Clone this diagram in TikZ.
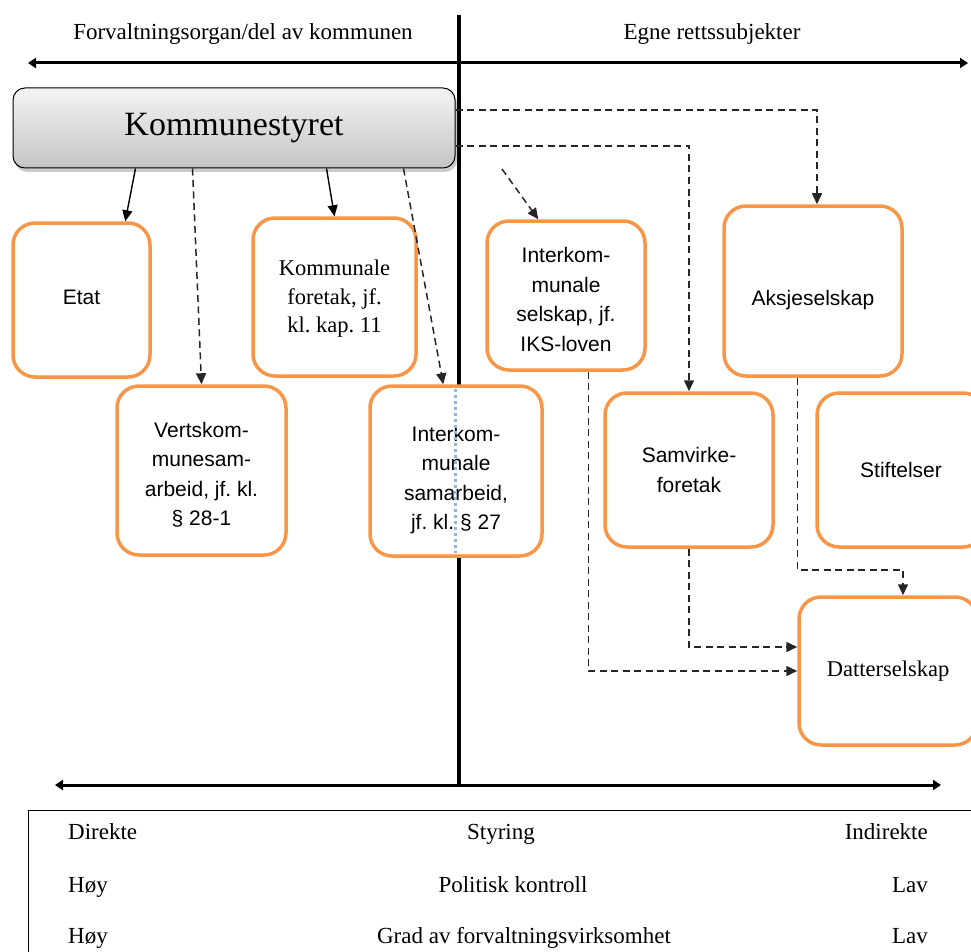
\documentclass[tikz,border=0pt]{standalone}
\usepackage{fontspec}
\setmainfont{Liberation Serif}
\newfontfamily\arialf{Liberation Sans}
\usetikzlibrary{arrows.meta,shadows}
\definecolor{orbox}{HTML}{F79646}
\definecolor{dotblue}{HTML}{95B3D7}
\definecolor{ksTop}{HTML}{F4F4F4}
\definecolor{ksBot}{HTML}{C4C4C4}
\begin{document}
\frenchspacing
\begin{tikzpicture}[x=1pt,y=-1pt,
  obox/.style={draw=orbox, line width=3.5pt, rounded corners=22pt, fill=white, inner sep=0pt, align=center},
  sanstxt/.style={font=\arialf\fontsize{21}{29.5}\selectfont},
  seriftxt/.style={font=\fontsize{22.5}{28.5}\selectfont},
  lbl/.style={font=\fontsize{23}{27}\selectfont, inner sep=0pt},
  kstyle/.style={draw=black, line width=1pt, rounded corners=12pt, top color=ksTop, bottom color=ksBot,
    drop shadow={shadow xshift=2pt, shadow yshift=-4pt, opacity=0.4},
    minimum width=442pt, minimum height=80pt, inner sep=0pt, font=\fontsize{34}{40}\selectfont},
  solidarr/.style={line width=1.4pt, -{Triangle[length=11pt,width=10pt]}},
  dasharr/.style={line width=1.5pt, draw=black!85, dash pattern=on 7pt off 4.5pt, -{Triangle[length=11pt,width=10pt]}},
  axisline/.style={line width=3pt, {Triangle[length=8pt,width=10pt]}-{Triangle[length=8pt,width=10pt]}}
]
\useasboundingbox (0,0) rectangle (971,952);
\clip (0,0) rectangle (971,952);

% axes
\coordinate (vtop) at (459,15);
\coordinate (vbot) at (459,785);
\coordinate (tl) at (28,63);
\coordinate (tr) at (968,63);
\coordinate (bl) at (55,785);
\coordinate (br) at (941,785);
\draw[line width=3.5pt] (vtop) -- (vbot);
\draw[axisline] (tl) -- (tr);
\draw[axisline] (bl) -- (br);

% headers
\node[lbl, anchor=base] (hl) at (243,39.3) {Forvaltningsorgan/del av kommunen};
\node[lbl, anchor=base] (hr) at (712,39.3) {Egne rettssubjekter};

% Kommunestyret
\node[kstyle] (ks) at (234,128) {Kommunestyret};

% boxes
\node[obox, sanstxt, minimum width=137pt, minimum height=154pt] (etat) at (81.5,300) {\raisebox{3pt}{Etat}\rule[-3pt]{0pt}{0pt}};
\node[obox, seriftxt, minimum width=163pt, minimum height=158pt] (kf) at (334.5,297) {\rule{0pt}{19pt}Kommunale\\foretak, jf.\\kl. kap. 11};
\node[obox, sanstxt, minimum width=169pt, minimum height=169pt] (vk) at (201.5,470.5) {\rule{0pt}{23.5pt}Vertskom-\\munesam-\\arbeid, jf. kl.\\§ 28-1};
\node[obox, sanstxt, minimum width=172pt, minimum height=170pt] (iks) at (456,471) {\rule{0pt}{33.5pt}Interkom-\\munale\\samarbeid,\\jf. kl. § 27};
\node[obox, sanstxt, minimum width=158pt, minimum height=149pt] (isel) at (566,295.5) {\rule{0pt}{23.5pt}Interkom-\\munale\\selskap, jf.\\IKS-loven};
\node[obox, sanstxt, minimum width=178pt, minimum height=170pt] (as) at (813,291) {\raisebox{-14pt}[0pt][0pt]{Aksjeselskap}};
\node[obox, sanstxt, minimum width=168pt, minimum height=154pt] (sam) at (689,470) {Samvirke-\\foretak};
\node[obox, sanstxt, minimum width=168pt, minimum height=154pt] (stift) at (901,470) {Stiftelser};
\node[obox, seriftxt, minimum width=178pt, minimum height=148pt] (datt) at (888,671) {Datterselskap};

% blue dotted line in iks
\coordinate (bdt) at (455.5,389);
\coordinate (bdb) at (455.5,553);
\draw[dotblue, line width=3pt, dash pattern=on 3pt off 3pt] (bdt) -- (bdb);

% connectors
\draw[solidarr] ([xshift=123pt]ks.south west) -- ([xshift=114pt]etat.north west);
\draw[solidarr] ([xshift=314pt]ks.south west) -- (kf.north);
\draw[dasharr] ([xshift=180pt]ks.south west) -- (vk.north);
\draw[dasharr] ([xshift=391pt]ks.south west) -- ([xshift=75pt]iks.north west);
\coordinate (free) at (502,169);
\draw[dasharr] (free) -- ([xshift=53pt]isel.north west);
\draw[dasharr] ([yshift=18pt]ks.east) -| ([xshift=4pt]as.north);
\draw[dasharr] ([yshift=-18pt]ks.east) -| (sam.north);
\draw[dasharr] ([xshift=75pt]as.south west) -- ++(0,192) -| ([xshift=15pt]datt.north);
\draw[dasharr] (sam.south) |- ([yshift=24pt]datt.west);
\draw[dasharr] ([xshift=103pt]isel.south west) |- (datt.west);

% table
\coordinate (tbr) at (975,810);
\coordinate (tbc) at (28,810);
\coordinate (tbb) at (28,956);
\draw[line width=1pt] (tbr) -- (tbc) -- (tbb);
\node[lbl, anchor=base west] (r1a) at (68,839) {Direkte};
\node[lbl, anchor=base] (r1b) at (501,839) {Styring};
\node[lbl, anchor=base east] (r1c) at (928,839) {Indirekte};
\node[lbl, anchor=base west] (r2a) at (68,892) {Høy};
\node[lbl, anchor=base] (r2b) at (513,892) {Politisk kontroll};
\node[lbl, anchor=base east] (r2c) at (928,892) {Lav};
\node[lbl, anchor=base west] (r3a) at (68,943) {Høy};
\node[lbl, anchor=base] (r3b) at (524,943) {Grad av forvaltningsvirksomhet};
\node[lbl, anchor=base east] (r3c) at (928,943) {Lav};
\end{tikzpicture}
\end{document}
